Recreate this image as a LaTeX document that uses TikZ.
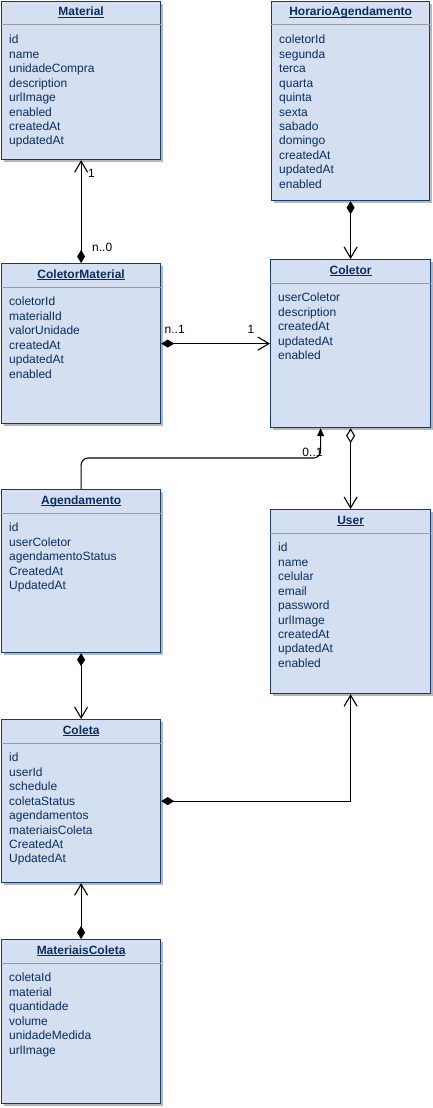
\documentclass[tikz,border=0pt]{standalone}
\usepackage{fontspec}
\setmainfont{Liberation Sans}
\usetikzlibrary{arrows.meta,shadows}
\definecolor{boxfill}{RGB}{212,224,242}
\definecolor{boxdraw}{RGB}{20,60,110}
\definecolor{boxtext}{RGB}{10,45,94}
\definecolor{sepgray}{RGB}{155,155,160}
\newcommand\ulname[1]{\setbox0\hbox{#1}\rlap{\rule[-1.6pt]{\wd0}{0.9pt}}\box0}
\tikzset{
  classbox/.style={draw=boxdraw, line width=1.2pt, fill=boxfill, inner sep=0pt,
    drop shadow={shadow xshift=2.5pt, shadow yshift=-2.5pt, fill=black!35, opacity=0.8}},
  sepline/.style={draw=sepgray, line width=1pt},
  classtitle/.style={inner sep=0pt, text=boxtext, font=\fontsize{12}{14.4}\selectfont\bfseries},
  attr/.style={inner sep=0pt, text=boxtext, font=\fontsize{12}{14.4}\selectfont},
  assoc/.style={draw=black, line width=1.1pt},
  lbl/.style={inner sep=0pt, text=black, font=\fontsize{12}{14.4}\selectfont},
  openhead/.style={},
}
\newcommand\umlclass[7]{%
  \node[classbox, minimum width=#4pt, minimum height=#5pt, anchor=north west] (#1) at (#2,#3) {};
  \draw[sepline] ([yshift=-24pt]#1.north west) -- ([yshift=-24pt]#1.north east);
  \node[classtitle, anchor=base] (#1-t) at ([yshift=-15pt]#1.north) {\ulname{#6}};
  \foreach \a [count=\i] in {#7} {
    \node[attr, anchor=base west] (#1-a\i) at ([xshift=8pt,yshift={-(42.8+(\i-1)*14.45)*1pt}]#1.north west) {\a};
  }%
}
\begin{document}
\begin{tikzpicture}[x=1pt,y=-1pt]
\useasboundingbox (0,0) rectangle (433,1108);
\fill[white] (0,0) rectangle (433,1108);

\umlclass{material}{1}{1}{159}{158}{Material}{id,name,unidadeCompra,description,urlImage,enabled,createdAt,updatedAt}
\umlclass{horario}{271}{1}{158}{199}{HorarioAgendamento}{coletorId,segunda,terca,quarta,quinta,sexta,sabado,domingo,createdAt,updatedAt,enabled}
\umlclass{colmat}{1}{263}{159}{160}{ColetorMaterial}{coletorId,materialId,valorUnidade,createdAt,updatedAt,enabled}
\umlclass{coletor}{270}{259}{160}{168}{Coletor}{userColetor,description,createdAt,updatedAt,enabled}
\umlclass{agend}{1}{489}{159}{163}{Agendamento}{id,userColetor,agendamentoStatus,CreatedAt,UpdatedAt}
\umlclass{user}{270}{509}{160}{184}{User}{id,name,celular,email,password,urlImage,createdAt,updatedAt,enabled}
\umlclass{coleta}{1}{719}{159}{163}{Coleta}{id,userId,schedule,coletaStatus,agendamentos,materiaisColeta,CreatedAt,UpdatedAt}
\umlclass{matcol}{1}{939}{159}{164}{MateriaisColeta}{coletaId,material,quantidade,volume,unidadeMedida,urlImage}

% Material -- ColetorMaterial
\draw[assoc, {Straight Barb[length=11pt,width=13pt]}-{Diamond[length=13pt,width=8pt]}] (material.south) -- (colmat.north);
\node[lbl, anchor=west] (l1) at (88,173.5) {1};
\node[lbl, anchor=west] (l2) at (92,247) {n..0};

% HorarioAgendamento -- Coletor
\draw[assoc, {Diamond[length=13pt,width=8pt]}-{Straight Barb[length=11pt,width=13pt]}] (horario.south) -- (coletor.north);

% ColetorMaterial -- Coletor
\draw[assoc, {Diamond[length=13pt,width=8pt]}-{Straight Barb[length=11pt,width=13pt]}] (colmat.east) -- (coletor.west);
\node[lbl, anchor=west] (l3) at (164.5,329.5) {n..1};
\node[lbl, anchor=west] (l4) at (247.5,329.5) {1};

% Coletor -- User
\draw[assoc, {Diamond[open,length=15pt,width=9pt]}-{Straight Barb[length=11pt,width=13pt]}] (coletor.south) -- (user.north);

% Agendamento -- Coletor
\draw[assoc, rounded corners=7pt, -{Triangle[length=8pt,width=7pt]}] (agend.north) -- ++(0,-31) -| ([xshift=-30pt]coletor.south);
\node[lbl] (l5) at (312.5,452.5) {0..1};

% Agendamento -- Coleta
\draw[assoc, {Diamond[length=13pt,width=8pt]}-{Straight Barb[length=11pt,width=13pt]}] (agend.south) -- (coleta.north);

% Coleta -- User
\draw[assoc, {Diamond[length=13pt,width=8pt]}-{Straight Barb[length=11pt,width=13pt]}] (coleta.east) -| (user.south);

% MateriaisColeta -- Coleta
\draw[assoc, {Diamond[length=13pt,width=8pt]}-{Straight Barb[length=11pt,width=13pt]}] (matcol.north) -- (coleta.south);
\end{tikzpicture}
\end{document}
